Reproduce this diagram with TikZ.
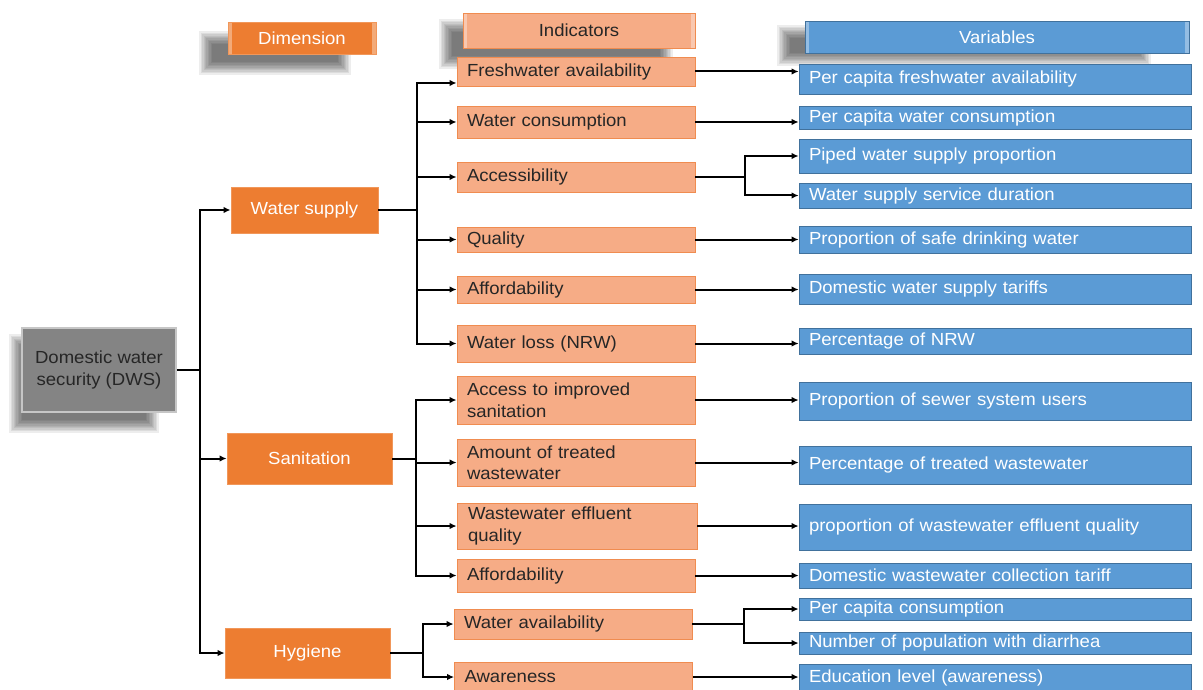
\documentclass[tikz,border=0pt]{standalone}
\usepackage{fontspec}
\setmainfont{Liberation Sans}[FakeStretch=1.06]
\usetikzlibrary{arrows.meta,backgrounds}
\definecolor{dimorange}{RGB}{237,125,49}
\definecolor{indfill}{RGB}{246,172,134}
\definecolor{indline}{RGB}{240,140,80}
\definecolor{varblue}{RGB}{91,155,213}
\definecolor{varline}{RGB}{65,113,156}
\definecolor{dwsgray}{RGB}{132,132,132}
\newcommand{\softshadow}[4]{%
  \foreach \k in {0,...,9}
    \fill[black,opacity=0.07] (#1-\k*1.4,#2-\k*1.4) rectangle (#3+\k*1.4,#4+\k*1.4);}

\begin{document}
\begin{tikzpicture}[x=1pt,y=-1pt,
  every node/.style={font=\fontsize{17.5}{21.5}\selectfont,inner sep=0pt},
  head/.style={minimum height=32pt,path picture={
    \fill[white,opacity=0.35] (path picture bounding box.north west) rectangle ([xshift=4pt]path picture bounding box.south west);
    \fill[white,opacity=0.35] (path picture bounding box.north east) rectangle ([xshift=-4pt]path picture bounding box.south east);}},
  dimbox/.style={fill=dimorange,draw=dimorange!80!white,line width=0.8pt,text=white},
  indbox/.style={fill=indfill,draw=indline,line width=0.8pt,minimum width=238pt,text width=218pt,align=left,text=black!85},
  varbox/.style={fill=varblue,draw=varline,line width=0.8pt,minimum width=392pt,text width=372pt,align=left,text=white},
  arr/.style={-{Latex[length=7pt,width=6.5pt]},line width=2pt}
]
\useasboundingbox (0,0) rectangle (1203,690);

\node[head,dimbox,minimum width=148pt] (hdim) at (302,38) {Dimension};
\node[head,indbox,minimum width=232pt,text width=,align=center,minimum height=35pt] (hind) at (579,30.5) {Indicators};
\node[head,varbox,minimum width=384pt,text width=,align=center] (hvar) at (997,37) {Variables};

\node[fill=dwsgray,draw=gray!45,line width=2pt,minimum width=154pt,minimum height=84pt,align=center,text=black!85] (dws) at (99,370) {Domestic water\\security (DWS)};

\node[dimbox,minimum width=147pt,minimum height=46pt] (ws) at (304.5,210) {Water supply};
\node[dimbox,minimum width=165pt,minimum height=51pt] (san) at (309.5,458.5) {Sanitation};
\node[dimbox,minimum width=165pt,minimum height=50pt] (hyg) at (307.5,653) {Hygiene};

\node[indbox,minimum height=29pt] (fresh) at (576,71.5) {Freshwater availability};
\node[indbox,minimum height=32pt] (cons) at (576,122) {Water consumption};
\node[indbox,minimum height=30pt] (acc) at (576,177) {Accessibility};
\node[indbox,minimum height=25pt] (qual) at (576,239.5) {Quality};
\node[indbox,minimum height=27pt] (aff) at (576,289.5) {Affordability};
\node[indbox,minimum height=37pt] (loss) at (576,343.5) {Water loss (NRW)};
\node[indbox,minimum height=48pt] (impr) at (576,400) {Access to improved\\sanitation};
\node[indbox,minimum height=47pt] (treat) at (576,462.5) {Amount of treated\\wastewater};
\node[indbox,minimum height=46pt,minimum width=240pt] (eff) at (577,526) {Wastewater effluent\\quality};
\node[indbox,minimum height=33pt] (saff) at (576,575.5) {Affordability};
\node[indbox,minimum height=30pt] (wav) at (573,624) {Water availability};
\node[indbox,minimum height=30pt] (awa) at (573.5,677) {Awareness};

\node[varbox,minimum height=30pt] (v1) at (995,79) {Per capita freshwater availability};
\node[varbox,minimum height=23pt] (v2) at (995,117.5) {Per capita water consumption};
\node[varbox,minimum height=34pt] (v3) at (995,156) {Piped water supply proportion};
\node[varbox,minimum height=25pt] (v4) at (995,195.5) {Water supply service duration};
\node[varbox,minimum height=27pt] (v5) at (995,239.5) {Proportion of safe drinking water};
\node[varbox,minimum height=30pt] (v6) at (995,289) {Domestic water supply tariffs};
\node[varbox,minimum height=26pt] (v7) at (995,341) {Percentage of NRW};
\node[varbox,minimum height=38pt] (v8) at (995,401) {Proportion of sewer system users};
\node[varbox,minimum height=38pt] (v9) at (995,465) {Percentage of treated wastewater};
\node[varbox,minimum height=46pt] (v10) at (995,527) {proportion of wastewater effluent quality};
\node[varbox,minimum height=25pt] (v11) at (995,575.5) {Domestic wastewater collection tariff};
\node[varbox,minimum height=22pt] (v12) at (995,609) {Per capita consumption};
\node[varbox,minimum height=22pt] (v13) at (995,643) {Number of population with diarrhea};
\node[varbox,minimum height=28pt] (v14) at (995,678) {Education level (awareness)};

\begin{scope}[on background layer]
  \softshadow{212}{44}{338}{62}
  \softshadow{452}{32}{660}{56}
  \softshadow{790}{38}{1138}{53}
  \softshadow{22}{347}{146}{420}
\end{scope}

\foreach \d in {ws,san,hyg}
  \draw[arr] (dws.east) -- ++(23,0) |- (\d.west);

\draw[arr] (ws.east) -- ++(39,0) |- ([yshift=-11.5pt]fresh.west);
\foreach \i in {cons,acc,qual,aff,loss}
  \draw[arr] (ws.east) -- ++(39,0) |- (\i.west);
\foreach \i in {impr,treat,eff,saff}
  \draw[arr] (san.east) -- ++(24,0) |- (\i.west);
\foreach \i in {wav,awa}
  \draw[arr] (hyg.east) -- ++(33,0) |- (\i.west);

\foreach \i/\v in {fresh/v1,cons/v2,qual/v5,aff/v6,loss/v7,impr/v8,treat/v9,eff/v10,saff/v11,awa/v14}
  \draw[arr] (\i.east) -- (\i.east -| \v.west);
\foreach \v in {v3,v4}
  \draw[arr] (acc.east) -- ++(50,0) |- (\v.west);
\foreach \v in {v12,v13}
  \draw[arr] (wav.east) -- ++(52,0) |- (\v.west);
\end{tikzpicture}
\end{document}
